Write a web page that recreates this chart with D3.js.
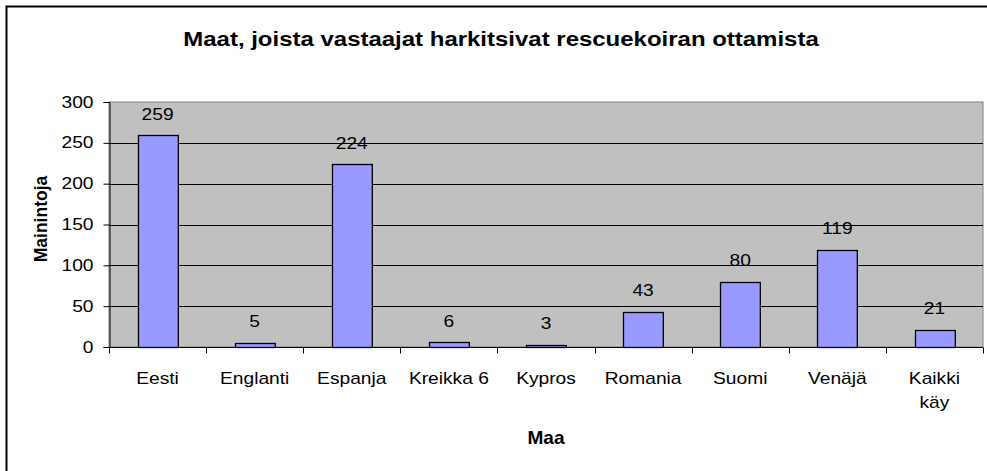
<!DOCTYPE html>
<html>
<head>
<meta charset="utf-8">
<script src="https://cdn.jsdelivr.net/npm/d3@7"></script>
<style>
  body { margin: 0; background: #fff; }
  text { font-family: "Liberation Sans", Arial, sans-serif; fill: #000; }
</style>
</head>
<body>
<div id="chart"></div>
<script>
// data
const categories = ["Eesti", "Englanti", "Espanja", "Kreikka 6", "Kypros", "Romania", "Suomi", "Venäjä", "Kaikki käy"];
const values = [259, 5, 224, 6, 3, 43, 80, 119, 21];
const yTicks = [0, 50, 100, 150, 200, 250, 300];

const W = 987, H = 471;
const margin = { top: 102, right: 4, bottom: 124, left: 109 };
const width = W - margin.left - margin.right,
    height = H - margin.top - margin.bottom;
// the original picture is a bit stretched sideways, text too
const stretch = 1.2;

const svg = d3.select("#chart")
    .append("svg")
    .attr("width", W)
    .attr("height", H);

// outer chart border (cut off at right/bottom like the original)
svg.append("rect")
    .attr("x", 6.5).attr("y", 6.5)
    .attr("width", W + 20).attr("height", H + 20)
    .attr("fill", "#fff")
    .attr("stroke", "#000")
    .attr("stroke-width", 2);

svg.append("text")
    .attr("transform", "translate(501,46) scale(1.23,1)")
    .attr("text-anchor", "middle")
    .style("font-size", "19.5px")
    .style("font-weight", "bold")
    .text("Maat, joista vastaajat harkitsivat rescuekoiran ottamista");

const g = svg.append("g")
    .attr("transform", `translate(${margin.left},${margin.top})`);

const x = d3.scaleBand()
    .domain(categories)
    .range([0, width])
    .paddingInner(0.59)
    .paddingOuter(0.295);

const y = d3.scaleLinear()
    .domain([0, 300])
    .range([height, 0]);

// plot area
g.append("rect")
    .attr("x", 0).attr("y", 0)
    .attr("width", width).attr("height", height)
    .attr("fill", "#C0C0C0")
    .attr("stroke", "#808080")
    .attr("stroke-width", 1);

// gridlines
g.selectAll(".grid")
    .data(yTicks.filter(d => d > 0 && d < 300))
    .enter()
    .append("line")
    .attr("class", "grid")
    .attr("x1", 0).attr("x2", width)
    .attr("y1", d => Math.round(y(d)) + 0.5)
    .attr("y2", d => Math.round(y(d)) + 0.5)
    .attr("stroke", "#000")
    .attr("stroke-width", 1);

// bars
g.selectAll(".bar")
    .data(values)
    .enter()
    .append("rect")
    .attr("class", "bar")
    .attr("x", (d, i) => Math.round(x(categories[i])) + 0.5)
    .attr("y", d => Math.round(y(d)) + 0.5)
    .attr("width", x.bandwidth())
    .attr("height", d => height - Math.round(y(d)))
    .attr("fill", "#9999FF")
    .attr("stroke", "#000")
    .attr("stroke-width", 1.3);

// value labels
g.selectAll(".val")
    .data(values)
    .enter()
    .append("text")
    .attr("class", "val")
    .attr("transform", (d, i) =>
        `translate(${x(categories[i]) + x.bandwidth() / 2},${y(d) - 15.5}) scale(${stretch},1)`)
    .attr("text-anchor", "middle")
    .style("font-size", "16px")
    .text(d => d);

// y axis
const yAxis = g.append("g")
    .attr("transform", "translate(0.5,0)")
    .call(d3.axisLeft(y).tickValues(yTicks).tickSize(6).tickPadding(7.3));
yAxis.select(".domain").attr("stroke", "#000");
yAxis.selectAll("line").attr("stroke", "#000");
yAxis.selectAll("text")
    .attr("transform", `scale(${stretch},1)`)
    .style("font-size", "16px")
    .style("font-family", "'Liberation Sans', Arial, sans-serif")
    .attr("fill", "#000");

// x axis with ticks on band boundaries
const xAxisG = g.append("g")
    .attr("transform", `translate(0,${Math.round(height) + 0.5})`);
xAxisG.append("line")
    .attr("x1", 0).attr("x2", width)
    .attr("stroke", "#000");
const step = width / categories.length;
xAxisG.selectAll(".xt")
    .data(d3.range(categories.length + 1))
    .enter()
    .append("line")
    .attr("x1", i => Math.round(i * step) + 0.5)
    .attr("x2", i => Math.round(i * step) + 0.5)
    .attr("y1", 0).attr("y2", 6)
    .attr("stroke", "#000");

xAxisG.selectAll(".xl")
    .data(categories)
    .enter()
    .append("text")
    .attr("transform", d => `translate(${x(d) + x.bandwidth() / 2},36) scale(${stretch},1)`)
    .attr("text-anchor", "middle")
    .style("font-size", "16px")
    .each(function (d) {
        const words = d === "Kaikki käy" ? ["Kaikki", "käy"] : [d];
        words.forEach((w, k) => {
            d3.select(this).append("tspan")
                .attr("x", 0)
                .attr("dy", k === 0 ? 0 : 25)
                .text(w);
        });
    });

// axis titles
svg.append("text")
    .attr("x", margin.left + width / 2)
    .attr("y", 444)
    .attr("text-anchor", "middle")
    .style("font-size", "19px")
    .style("font-weight", "bold")
    .text("Maa");

svg.append("text")
    .attr("transform", "translate(47,219) rotate(-90)")
    .attr("text-anchor", "middle")
    .style("font-size", "17.5px")
    .style("font-weight", "bold")
    .text("Mainintoja");
</script>
</body>
</html>
